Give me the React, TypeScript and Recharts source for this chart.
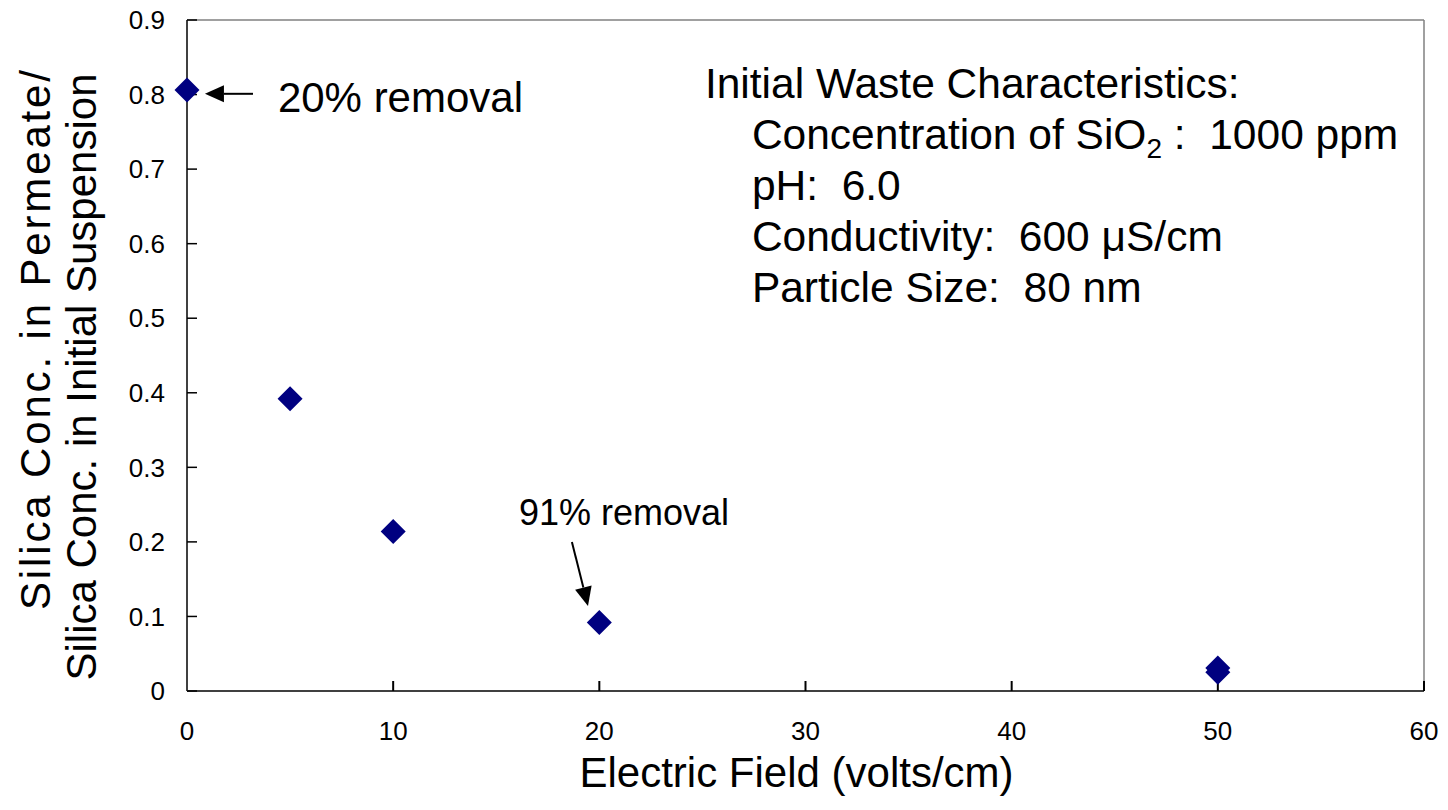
import { ScatterChart, Scatter, XAxis, YAxis, ReferenceLine, ReferenceDot, Label } from 'recharts';

// electric field (volts/cm) vs permeate / initial silica concentration ratio
const fieldStrength = [0, 5, 10, 20, 50, 50];
const concRatio = [0.806, 0.392, 0.214, 0.092, 0.031, 0.025];

const xTicks = [0, 10, 20, 30, 40, 50, 60];
const yTicks = [0, 0.1, 0.2, 0.3, 0.4, 0.5, 0.6, 0.7, 0.8, 0.9];
const yTickLabels = ['0', '0.1', '0.2', '0.3', '0.4', '0.5', '0.6', '0.7', '0.8', '0.9'];

const xTitle = 'Electric Field (volts/cm)';
const yTitleLines = ['Silica Conc. in Permeate/', 'Silica Conc. in Initial Suspension'];

const infoTitle = 'Initial Waste Characteristics:';
const infoLines = ['pH:  6.0', 'Conductivity:  600 \u03bcS/cm', 'Particle Size:  80 nm'];

const FONT = '"Liberation Sans", Arial, sans-serif';

const data = fieldStrength.map((x, i) => ({ x, y: concRatio[i] }));

const Diamond = (props: any) => {
  const { cx, cy } = props;
  const r = 12.5;
  return (
    <polygon
      points={`${cx},${cy - r} ${cx + r},${cy} ${cx},${cy + r} ${cx - r},${cy}`}
      fill="#000080"
    />
  );
};

const Arrow = (props: any) => {
  const { x1, y1, x2, y2 } = props;
  const dx = x2 - x1;
  const dy = y2 - y1;
  const len = Math.sqrt(dx * dx + dy * dy) || 1;
  const ux = dx / len;
  const uy = dy / len;
  const hl = 19;
  const hw = 8.5;
  const bx = x2 - ux * hl;
  const by = y2 - uy * hl;
  return (
    <g>
      <line x1={x1} y1={y1} x2={bx} y2={by} stroke="#000" strokeWidth={2} />
      <polygon
        points={`${x2},${y2} ${bx - uy * hw},${by + ux * hw} ${bx + uy * hw},${by - ux * hw}`}
        fill="#000"
      />
    </g>
  );
};

const TextAt = (text: string, size: number) => (props: any) => (
  <text x={props.cx} y={props.cy} fontFamily={FONT} fontSize={size} fill="#000" style={{ whiteSpace: 'pre' }}>
    {text}
  </text>
);

const InfoBlock = (props: any) => {
  const { cx, cy } = props;
  return (
    <text fontFamily={FONT} fontSize={42.5} fill="#000" style={{ whiteSpace: 'pre' }}>
      <tspan x={cx} y={cy}>{infoTitle}</tspan>
      <tspan x={cx + 47} y={cy + 51}>Concentration of SiO</tspan>
      <tspan fontSize={28} dy={9}>2</tspan>
      <tspan dy={-9}>{' :  1000 ppm'}</tspan>
      {infoLines.map((l, i) => (
        <tspan key={l} x={cx + 47} y={cy + 51 * (i + 2)}>{l}</tspan>
      ))}
    </text>
  );
};

const XTitle = (props: any) => {
  const { x, y, width } = props.viewBox;
  return (
    <text x={x + width / 2 - 9} y={y + 96} textAnchor="middle" fontFamily={FONT} fontSize={42} fill="#000">
      {xTitle}
    </text>
  );
};

const YTitle = () => (
  <g>
    <text
      transform="translate(50,340) rotate(-90)"
      textAnchor="middle"
      fontFamily={FONT}
      fontSize={42}
      fill="#000"
      textLength={540}
      lengthAdjust="spacing"
    >
      {yTitleLines[0]}
    </text>
    <text transform="translate(96,377) rotate(-90)" textAnchor="middle" fontFamily={FONT} fontSize={42} fill="#000">
      {yTitleLines[1]}
    </text>
  </g>
);

export default function App() {
  return (
    <div style={{ position: 'absolute', left: 0, top: 0, background: '#fff' }}>
      <ScatterChart width={1448} height={810} margin={{ top: 20, right: 24, left: 0, bottom: 0 }}>
        <XAxis
          type="number"
          dataKey="x"
          domain={[0, 60]}
          ticks={xTicks}
          interval={0}
          height={119}
          axisLine={{ stroke: '#404040', strokeWidth: 2 }}
          tickLine={{ stroke: '#000', strokeWidth: 2 }}
          tickSize={-10}
          tickMargin={41}
          tick={{ fill: '#000', fontSize: 26, fontFamily: FONT }}
        >
          <Label content={XTitle} />
        </XAxis>
        <YAxis
          type="number"
          dataKey="y"
          domain={[0, 0.9]}
          ticks={yTicks}
          interval={0}
          width={187}
          axisLine={{ stroke: '#404040', strokeWidth: 2 }}
          tickLine={{ stroke: '#000', strokeWidth: 1.5 }}
          tickSize={-10}
          tickMargin={32}
          tickFormatter={(v: number) => yTickLabels[yTicks.indexOf(v)] ?? String(v)}
          tick={{ fill: '#000', fontSize: 26, fontFamily: FONT }}
        >
          <Label content={YTitle} />
        </YAxis>
        <ReferenceLine y={0.9} stroke="#808080" strokeWidth={1.5} />
        <ReferenceLine x={60} stroke="#808080" strokeWidth={1.5} />
        <ReferenceLine segment={[{ x: 3.2, y: 0.801 }, { x: 0.87, y: 0.801 }]} shape={Arrow} />
        <ReferenceLine segment={[{ x: 18.67, y: 0.2 }, { x: 19.45, y: 0.114 }]} shape={Arrow} />
        <ReferenceDot x={4.41} y={0.776} shape={TextAt('20% removal', 42)} />
        <ReferenceDot x={16.1} y={0.223} shape={TextAt('91% removal', 36)} />
        <ReferenceDot x={25.12} y={0.795} shape={InfoBlock} />
        <Scatter data={data} shape={Diamond} isAnimationActive={false} />
      </ScatterChart>
    </div>
  );
}
